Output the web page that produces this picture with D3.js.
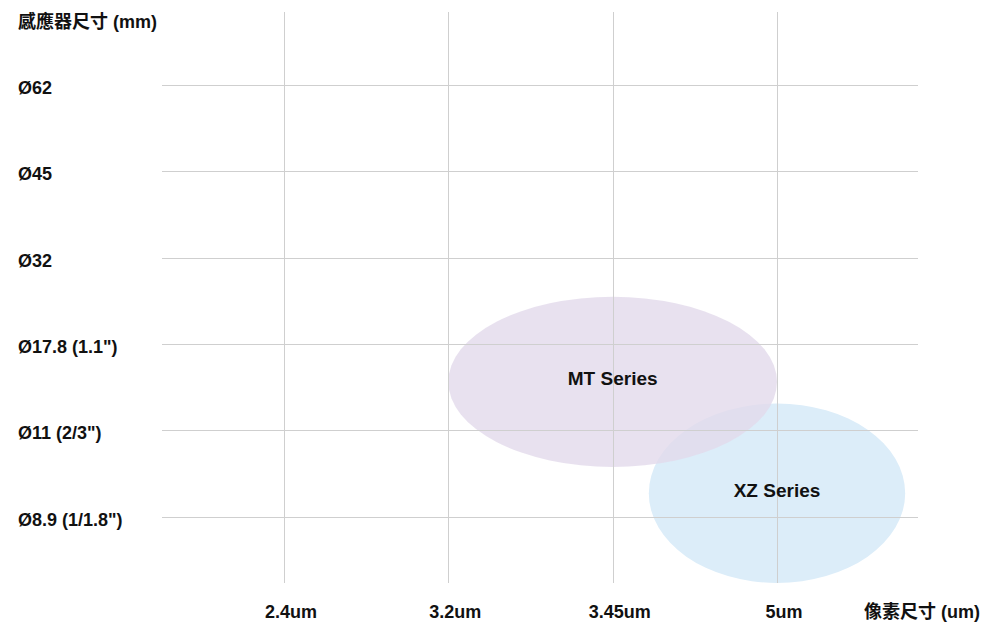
<!DOCTYPE html>
<html>
<head>
<meta charset="utf-8">
<script src="https://cdn.jsdelivr.net/npm/d3@7"></script>
<style>
  html, body { margin: 0; padding: 0; background: #fff; }
  svg { display: block; }
  text { font-family: "Liberation Sans", Arial, "Noto Sans CJK TC", sans-serif; font-weight: bold; fill: #111; }
</style>
</head>
<body>
<svg id="chart" width="988" height="625"></svg>
<script>
// ---- data ----
const xCategories = ["2.4um", "3.2um", "3.45um", "5um"];
const yCategories = ["Ø8.9 (1/1.8\")", "Ø11 (2/3\")", "Ø17.8 (1.1\")", "Ø32", "Ø45", "Ø62"];
const xTitle = "像素尺寸 (um)";
const yTitle = "感應器尺寸 (mm)";
// series regions, in category-index units (x index, y index, half-widths)
const seriesNames = ["XZ Series", "MT Series"];
const seriesCx = [3, 2];
const seriesCy = [0.27, 1.56];
const seriesRx = [0.78, 1.0];
const seriesRy = [1.04, 0.985];
const seriesColors = ["#dcedf9", "#e2daeb"];
const seriesOpacity = [1, 0.8];

// ---- layout ----
const svg = d3.select("#chart");
const x = d3.scaleLinear().domain([0, xCategories.length - 1]).range([284, 777]);
const y = d3.scaleLinear().domain([0, yCategories.length - 1]).range([516.5, 85]);
const gridLeft = 162, gridRight = 918, gridTop = 12, gridBottom = 583;

const series = seriesNames.map((n, i) => ({
  name: n, cx: seriesCx[i], cy: seriesCy[i], rx: seriesRx[i], ry: seriesRy[i],
  color: seriesColors[i], opacity: seriesOpacity[i]
}));
const step = x(1) - x(0);
const ystep = y(0) - y(1);
svg.append("g").selectAll("ellipse").data(series).join("ellipse")
  .attr("cx", d => x(d.cx))
  .attr("cy", d => y(d.cy))
  .attr("rx", d => d.rx * step)
  .attr("ry", d => d.ry * ystep)
  .attr("fill", d => d.color)
  .attr("fill-opacity", d => d.opacity);

// grid
const grid = svg.append("g").attr("stroke", "#cfcfcf").attr("stroke-width", 1);
grid.selectAll("line.v").data(xCategories).join("line").attr("class", "v")
  .attr("x1", (d, i) => Math.round(x(i)) + 0.5).attr("x2", (d, i) => Math.round(x(i)) + 0.5)
  .attr("y1", gridTop).attr("y2", gridBottom);
grid.selectAll("line.h").data(yCategories).join("line").attr("class", "h")
  .attr("y1", (d, i) => Math.round(y(i)) + 0.5).attr("y2", (d, i) => Math.round(y(i)) + 0.5)
  .attr("x1", gridLeft).attr("x2", gridRight);

// series labels
svg.append("g").selectAll("text").data(series).join("text")
  .attr("x", d => x(d.cx))
  .attr("y", d => y(d.cy) - 3)
  .attr("text-anchor", "middle")
  .attr("dominant-baseline", "central")
  .attr("font-size", 19)
  .text(d => d.name);

// y labels
svg.append("g").selectAll("text").data(yCategories).join("text")
  .attr("x", 18)
  .attr("y", (d, i) => y(i) + 3)
  .attr("dominant-baseline", "central")
  .attr("font-size", 18)
  .text(d => d);

svg.append("text").attr("x", 18).attr("y", 22)
  .attr("dominant-baseline", "central").attr("font-size", 18).text(yTitle);

// x labels
svg.append("g").selectAll("text").data(xCategories).join("text")
  .attr("x", (d, i) => x(i) + 7)
  .attr("y", 612)
  .attr("text-anchor", "middle")
  .attr("dominant-baseline", "central")
  .attr("font-size", 18)
  .text(d => d);

svg.append("text").attr("x", 864).attr("y", 612)
  .attr("dominant-baseline", "central").attr("font-size", 18).text(xTitle);
</script>
</body>
</html>
